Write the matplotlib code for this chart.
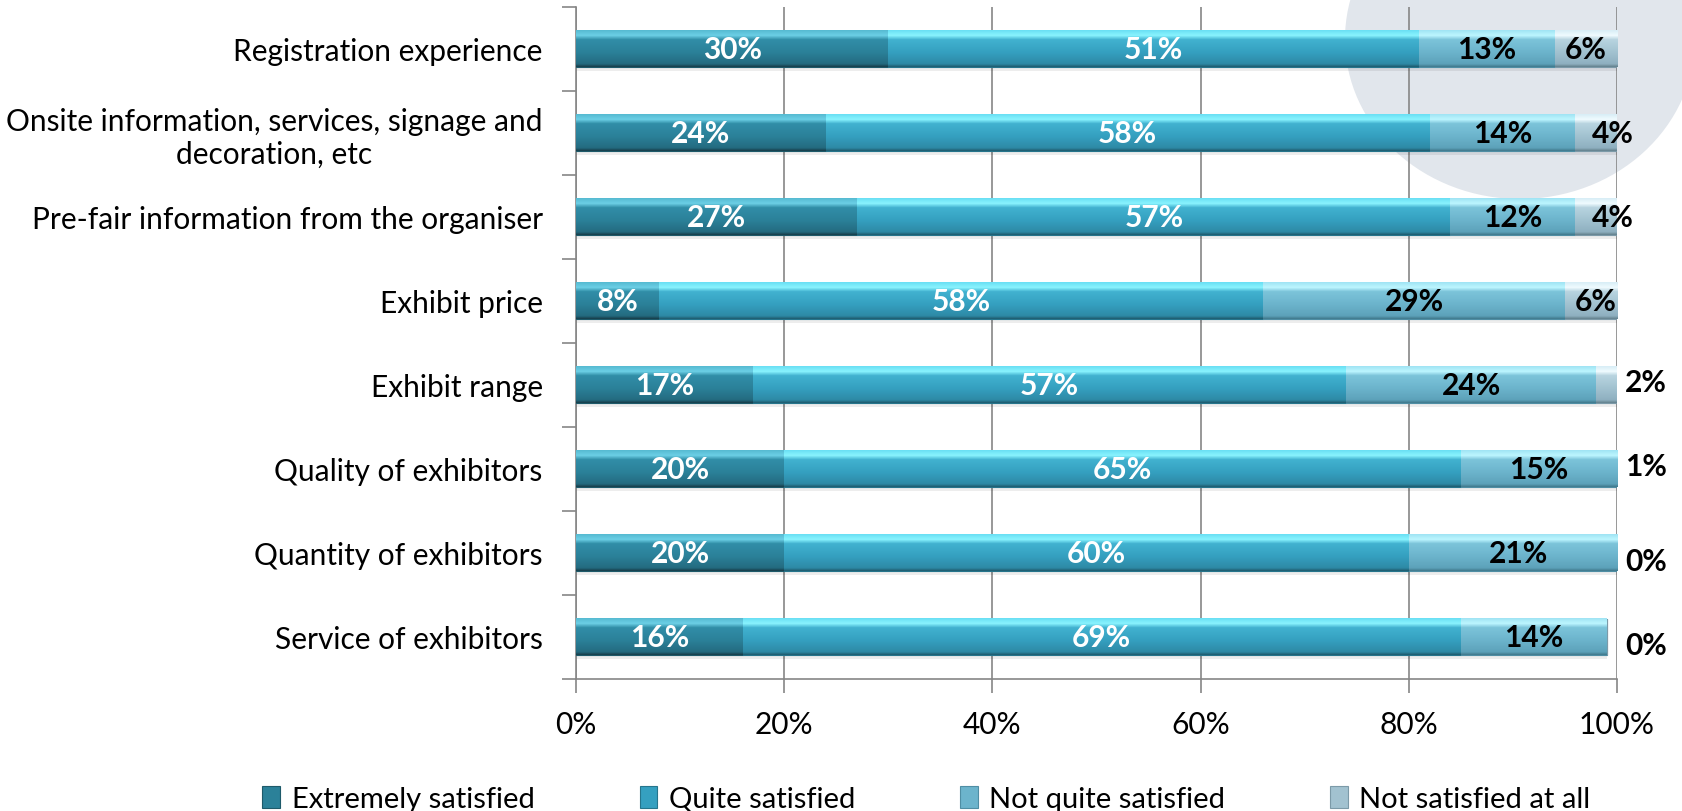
import numpy as np
import matplotlib.pyplot as plt
from matplotlib.colors import LinearSegmentedColormap
from matplotlib.patches import Ellipse

plt.rcParams['font.family'] = ['Lato', 'DejaVu Sans']

# Survey results, percent of respondents per rating
categories = ['Registration experience',
              'Onsite information, services, signage and\ndecoration, etc',
              'Pre-fair information from the organiser',
              'Exhibit price',
              'Exhibit range',
              'Quality of exhibitors',
              'Quantity of exhibitors',
              'Service of exhibitors']
series = ['Extremely satisfied', 'Quite satisfied', 'Not quite satisfied', 'Not satisfied at all']
extremely = [30, 24, 27, 8, 17, 20, 20, 16]
quite = [51, 58, 57, 58, 57, 65, 60, 69]
not_quite = [13, 14, 12, 29, 24, 15, 21, 14]
not_at_all = [6, 4, 4, 6, 2, 1, 0, 0]
x_ticks = [0, 20, 40, 60, 80, 100]

values = [extremely, quite, not_quite, not_at_all]

# bottom -> top colour stops for the bevelled bar look
stops = [0, 0.08, 0.4, 0.75, 0.86, 1.0]
shades = [['#173f4b', '#246b80', '#2b8199', '#318ea8', '#6cd0e6', '#56bad2'],
          ['#1f5d70', '#2e8aa6', '#35a0c0', '#42b2d0', '#8af4ff', '#6adff4'],
          ['#417a8e', '#5da2ba', '#6cb4cc', '#7cc4da', '#bdf6ff', '#a0e4f4'],
          ['#65838f', '#8fb0c0', '#a2c2d0', '#b8d4e0', '#f0fbff', '#d8eef6']]
base_colors = ['#2b8199', '#35a0c0', '#6cb4cc', '#a2c2d0']
edge_colors = ['#1e5a6a', '#26758c', '#4f8ea4', '#7c9aa8']
text_colors = ['white', 'white', 'black', 'black']
cmaps = [LinearSegmentedColormap.from_list(f'g{i}', list(zip(stops, s))) for i, s in enumerate(shades)]
grad = np.linspace(0, 1, 64).reshape(-1, 1)

fig = plt.figure(figsize=(16.83, 8.12), dpi=100)
# pale decorative disc in the upper right corner
W, H = 1683, 812
fig.patches.append(Ellipse((1520 / W, 1 - 40 / H), 350 / W, 320 / H, transform=fig.transFigure,
                           facecolor='#e1e6ec', edgecolor='none', zorder=0))

ax = fig.add_axes([576 / W, 1 - 680 / H, 1041 / W, 672 / H])
ax.set_zorder(1)
ax.patch.set_alpha(0)

xmax = 100
n = len(categories)
y = np.arange(n)[::-1]
bar_h = 0.43
left = np.zeros(n)
handles = []
for i, vals in enumerate(values):
    vals = np.array(vals, dtype=float)
    # soft drop shadow
    ax.barh(y - 0.05, vals, left=left, height=bar_h, color='black', alpha=0.07, zorder=2)
    bars = ax.barh(y, vals, left=left, height=bar_h, color=base_colors[i],
                   edgecolor=edge_colors[i], linewidth=0.8, label=series[i], zorder=3)
    handles.append(bars)
    for bar in bars:
        x0, y0 = bar.get_x(), bar.get_y()
        x1 = min(x0 + bar.get_width(), xmax)
        if x1 <= x0:
            continue
        ax.imshow(grad, cmap=cmaps[i], origin='lower', aspect='auto', interpolation='bilinear',
                  extent=(x0, x1, y0, y0 + bar.get_height()), zorder=3.5)
    # value labels
    for j, v in enumerate(vals):
        cx, cy = left[j] + v / 2, y[j]
        if i == 3 and v <= 2:
            cx, cy = 102.8, y[j] + (0.04 if v > 0 else -0.09)
        elif i == 3 and v <= 4:
            cx = 99.6
        ax.text(cx, cy, f'{v:.0f}%', ha='center', va='center', fontsize=21.5, fontweight='bold',
                color=text_colors[i], zorder=5, clip_on=False)
    left += vals

ax.set_xlim(0, xmax)
ax.set_ylim(-0.5, n - 0.5)

ax.set_xticks(x_ticks)
ax.set_xticklabels([f'{t}%' for t in x_ticks])
ax.set_yticks(y)
ax.set_yticklabels(categories, multialignment='center')
ax.set_yticks(np.arange(n + 1) - 0.5, minor=True)
ax.tick_params(axis='y', which='major', length=0, pad=24, labelsize=21.5)
ax.tick_params(axis='y', which='minor', length=10, width=1.2, color='#868686')
ax.tick_params(axis='x', length=10, width=1.2, color='#868686', pad=12, labelsize=21.5)

for s in ['top', 'right']:
    ax.spines[s].set_visible(False)
for s in ['left', 'bottom']:
    ax.spines[s].set_color('#868686')
    ax.spines[s].set_linewidth(1.2)
ax.xaxis.grid(True, color='#868686', linewidth=1.2)
ax.set_axisbelow(True)

fig.legend(handles=handles, loc='center', bbox_to_anchor=(0.5505, 0.015), ncol=4, frameon=False,
           fontsize=21, handlelength=0.6, handleheight=0.8, handletextpad=0.4, columnspacing=3.6)

plt.savefig('out.png', dpi=100)
